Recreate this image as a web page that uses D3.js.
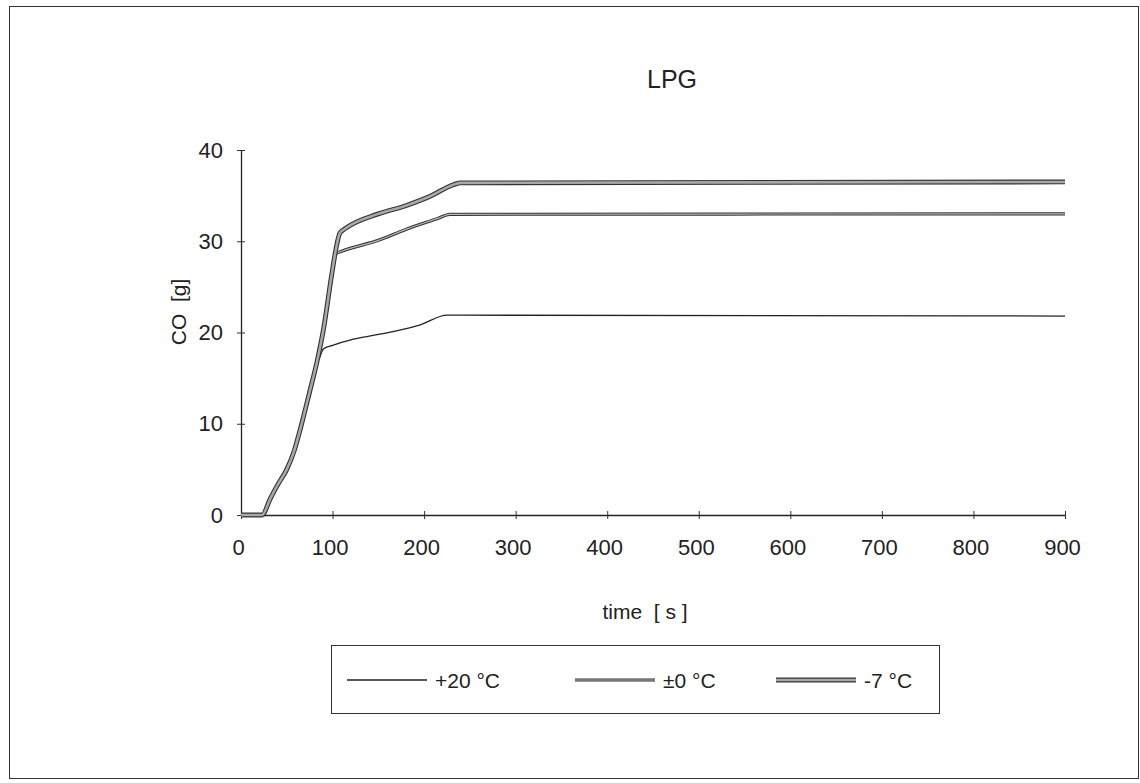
<!DOCTYPE html>
<html>
<head>
<meta charset="utf-8">
<script src="https://cdn.jsdelivr.net/npm/d3@7"></script>
<style>
  html, body { margin: 0; padding: 0; background: #fff; }
  svg { display: block; font-family: "Liberation Sans", Arial, sans-serif; }
</style>
</head>
<body>
<svg id="chart" width="1140" height="783"></svg>
<script>
// Cumulative CO emission of an LPG vehicle during the test cycle, three ambient temperatures
const seriesNames = ["+20 °C", "±0 °C", "-7 °C"];

const timeWarm = [0, 23, 32, 40, 50, 58, 65, 76, 85, 90, 100, 120, 140, 166, 195, 225, 240, 900];
const coWarm   = [0, 0, 1.8, 3.3, 5.0, 7.0, 9.5, 14.5, 17.0, 18.2, 18.6, 19.2, 19.6, 20.1, 20.8, 21.9, 21.9, 21.8];

const timeZero = [0, 23, 32, 40, 50, 58, 65, 75, 83, 90, 99, 103, 110, 150, 180, 215, 228, 900];
const coZero   = [0, 0, 1.8, 3.3, 5.0, 7.0, 9.5, 13.5, 16.8, 20.3, 26.1, 28.6, 28.9, 30.1, 31.3, 32.5, 32.95, 33.0];

const timeCold = [0, 23, 32, 40, 50, 58, 65, 75, 83, 90, 99, 104, 108, 114, 150, 180, 206, 232, 240, 900];
const coCold   = [0, 0, 1.8, 3.3, 5.0, 7.0, 9.5, 13.5, 16.8, 20.3, 26.3, 29.3, 30.9, 31.4, 33.0, 33.9, 34.9, 36.2, 36.4, 36.5];

const xTicks = [0, 100, 200, 300, 400, 500, 600, 700, 800, 900];
const yTicks = [0, 10, 20, 30, 40];

const svg = d3.select("#chart");

// outer frame
svg.append("rect")
  .attr("x", 9.5).attr("y", 6.5)
  .attr("width", 1129).attr("height", 772)
  .attr("fill", "none").attr("stroke", "#333").attr("stroke-width", 1);

const x = d3.scaleLinear().domain([0, 900]).range([241, 1065]);
const y = d3.scaleLinear().domain([0, 40]).range([515, 150]);

// title
svg.append("text")
  .attr("x", 672).attr("y", 88)
  .attr("text-anchor", "middle")
  .attr("font-size", 25).attr("fill", "#222")
  .text("LPG");

// axes with ticks crossing the axis line
const gx = svg.append("g").attr("transform", "translate(0,515)")
  .call(d3.axisBottom(x).tickValues(xTicks).tickSize(4).tickPadding(20).tickSizeOuter(0));
const gy = svg.append("g").attr("transform", "translate(241,0)")
  .call(d3.axisLeft(y).tickValues(yTicks).tickSize(4).tickPadding(14).tickSizeOuter(0));

gx.selectAll(".tick line").attr("y1", -4).attr("y2", 4);
gy.selectAll(".tick line").attr("x1", -4).attr("x2", 4);
gx.selectAll(".tick text").attr("dx", -3);
[gx, gy].forEach(g => {
  g.select(".domain").attr("stroke", "#222").attr("stroke-width", 1.3);
  g.selectAll(".tick line").attr("stroke", "#333");
  g.selectAll(".tick text").attr("font-size", 22).attr("fill", "#222")
    .attr("font-family", "\"Liberation Sans\", Arial, sans-serif");
});

// axis titles
svg.append("text")
  .attr("x", 645).attr("y", 619)
  .attr("text-anchor", "middle")
  .attr("font-size", 21).attr("fill", "#222")
  .attr("xml:space", "preserve")
  .text("time  [ s ]");

svg.append("text")
  .attr("transform", "translate(186,312) rotate(-90)")
  .attr("text-anchor", "middle")
  .attr("font-size", 21).attr("fill", "#222")
  .attr("xml:space", "preserve")
  .text("CO  [g]");

// line styles: thin single line, double line, wide double line
const styles = [
  [{ w: 1.3, c: "#222" }],
  [{ w: 3.2, c: "#333" }, { w: 1.2, c: "#bbb" }],
  [{ w: 4.8, c: "#333" }, { w: 2.6, c: "#a8a8a8" }]
];

const seriesData = [
  d3.zip(timeWarm, coWarm),
  d3.zip(timeZero, coZero),
  d3.zip(timeCold, coCold)
];

const line = d3.line()
  .x(d => x(d[0]))
  .y(d => y(d[1]))
  .curve(d3.curveMonotoneX);

const plot = svg.append("g");
seriesData.forEach((data, i) => {
  styles[i].forEach(s => {
    plot.append("path")
      .datum(data)
      .attr("fill", "none")
      .attr("stroke", s.c)
      .attr("stroke-width", s.w)
      .attr("stroke-linejoin", "round")
      .attr("d", line);
  });
});

// legend
const legend = svg.append("g");
legend.append("rect")
  .attr("x", 331.5).attr("y", 645.5)
  .attr("width", 608).attr("height", 68)
  .attr("fill", "#fff").attr("stroke", "#333").attr("stroke-width", 1);

const legendX = [347, 575, 776];
seriesNames.forEach((name, i) => {
  const lx = legendX[i];
  styles[i].forEach(s => {
    legend.append("line")
      .attr("x1", lx).attr("x2", lx + 80)
      .attr("y1", 680).attr("y2", 680)
      .attr("stroke", s.c).attr("stroke-width", s.w);
  });
  legend.append("text")
    .attr("x", lx + 88).attr("y", 688)
    .attr("font-size", 21).attr("fill", "#222")
    .text(name);
});
</script>
</body>
</html>
